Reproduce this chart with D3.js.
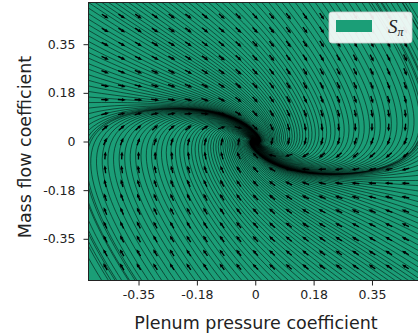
<!DOCTYPE html>
<html><head><meta charset="utf-8">
<script src="https://cdn.jsdelivr.net/npm/d3@7"></script>
<style>body{margin:0;background:#fff;overflow:hidden} svg{display:block}</style>
</head><body>
<svg id="chart" width="418" height="336"></svg>
<script>
// ---- data ----
const xDomain = [-0.5, 0.5];
const yDomain = [-0.5, 0.5];
const xTickValues = [-0.35, -0.175, 0, 0.175, 0.35];
const xTickLabels = ["-0.35", "-0.18", "0", "0.18", "0.35"];
const yTickValues = [-0.35, -0.175, 0, 0.175, 0.35];
const yTickLabels = ["-0.35", "-0.18", "0", "0.18", "0.35"];
// dynamics coefficients: d(pressure)/dt = [pressure, massflow], d(massflow)/dt = [sat(pressure), massflow]
const dPressureCoef = [-0.15, 1.0];
const dMassFlowCoef = [-1.0, -1.3];
const pressureSaturation = [0.2];
const quiverX = [-0.45,-0.4,-0.35,-0.3,-0.25,-0.2,-0.15,-0.1,-0.05,0,0.05,0.1,0.15,0.2,0.25,0.3,0.35,0.4,0.45];
const quiverY = [-0.45,-0.4,-0.35,-0.3,-0.25,-0.2,-0.15,-0.1,-0.05,0,0.05,0.1,0.15,0.2,0.25,0.3,0.35,0.4,0.45];
const legendSymbol = "S";
const legendSub = "π";
const xLabel = "Plenum pressure coefficient";
const yLabel = "Mass flow coefficient";
const regionColor = "#1b9e77";

// ---- layout ----
const svg = d3.select("#chart");
const x = d3.scaleLinear().domain(xDomain).range([88.5, 422]);
const y = d3.scaleLinear().domain(yDomain).range([280.5, 2.5]);
const [px0, px1] = x.range(), [py0, py1] = y.range();

svg.append("clipPath").attr("id","plotclip").append("rect")
  .attr("x", px0).attr("y", py1).attr("width", px1-px0).attr("height", py0-py1);

svg.append("rect").attr("x", px0).attr("y", py1).attr("width", px1-px0).attr("height", py0-py1)
  .attr("fill", regionColor);

function field(px, py) {
  const s = pressureSaturation[0];
  const h = px / Math.sqrt(1 + (px/s)*(px/s));
  return [dPressureCoef[0]*px + dPressureCoef[1]*py, dMassFlowCoef[0]*h + dMassFlowCoef[1]*py];
}

// ---- streamplot (matplotlib-like, unbroken streamlines) ----
const density = 1.7;
const N = Math.round(30*density);
const mask = new Uint8Array(N*N);
let curTraj = [], curXY = null;
const xw = xDomain[1]-xDomain[0], yw = yDomain[1]-yDomain[0];
function within(a,b){ return a>=0 && a<=1 && b>=0 && b<=1; }
function toMask(a,b){ return [Math.round(a*(N-1)), Math.round(b*(N-1))]; }
function updateTraj(a,b){
  const [xm,ym] = toMask(a,b);
  if (!curXY || curXY[0]!==xm || curXY[1]!==ym) {
    if (mask[ym*N+xm]===0) { curTraj.push(ym*N+xm); mask[ym*N+xm]=1; curXY=[xm,ym]; }
  }
}
function vel(a,b,dir){
  if(!within(a,b)) return null;
  const [u,v] = field(xDomain[0]+a*xw, yDomain[0]+b*yw);
  const ua=u/xw, va=v/yw, s=Math.hypot(ua,va);
  if (s<1e-12) return null;
  return [dir*ua/s, dir*va/s];
}
const maxlength = 4.0, minlength = 0.1;
function rk12(a0,b0,dir){
  const maxerror=0.003, maxds=Math.min(1/N,0.1);
  let ds=maxds, st=0, a=a0, b=b0, it=0;
  const pts=[];
  while(true){
    if(++it>3000) break;
    if(!within(a,b)) break;
    pts.push([a,b]);
    const k1=vel(a,b,dir); if(!k1) break;
    const k2=vel(a+ds*k1[0], b+ds*k1[1], dir);
    if(!k2){ pts.push([a+ds*k1[0], b+ds*k1[1]]); st+=ds; break; }
    const dx1=ds*k1[0], dy1=ds*k1[1];
    const dx2=ds*0.5*(k1[0]+k2[0]), dy2=ds*0.5*(k1[1]+k2[1]);
    const err=Math.hypot(dx2-dx1, dy2-dy1);
    if(err<maxerror){
      a+=dx2; b+=dy2;
      if(!within(a,b)){ pts.push([a,b]); break; }
      updateTraj(a,b);
      if(st+ds>maxlength) break;
      st+=ds;
    }
    ds = err===0 ? maxds : Math.min(maxds, 0.85*ds*Math.sqrt(maxerror/err));
    if (ds < 1e-7) break;
  }
  return {s:st, pts};
}
function integrate(a0,b0){
  curTraj=[]; curXY=null; updateTraj(a0,b0);
  const bw=rk12(a0,b0,-1);
  curXY=toMask(a0,b0);
  const fw=rk12(a0,b0,1);
  const tot=bw.s+fw.s;
  if(tot>minlength) return bw.pts.slice().reverse().concat(fw.pts.slice(1));
  curTraj.forEach(i=>mask[i]=0);
  return null;
}
function* startPoints(nx,ny){
  let xf=0, yf=1, xl=nx-1, yl=ny-1, xi=0, yi=0, d='right';
  for(let i=0;i<nx*ny;i++){
    yield [xi,yi];
    if(d==='right'){ xi++; if(xi>=xl){ xl--; d='up'; } }
    else if(d==='up'){ yi++; if(yi>=yl){ yl--; d='left'; } }
    else if(d==='left'){ xi--; if(xi<=xf){ xf++; d='down'; } }
    else { yi--; if(yi<=yf){ yf++; d='right'; } }
  }
}
const streams=[];
for(const [xm,ym] of startPoints(N,N)){
  if(mask[ym*N+xm]===0){
    const t=integrate(xm/(N-1), ym/(N-1));
    if(t) streams.push(t);
  }
}
const line = d3.line()
  .x(p=>x(xDomain[0]+p[0]*xw)).y(p=>y(yDomain[0]+p[1]*yw));
const sg = svg.append("g").attr("clip-path","url(#plotclip)");
sg.selectAll("path.stream").data(streams).join("path").attr("class","stream")
  .attr("d", line).attr("fill","none").attr("stroke","#000")
  .attr("stroke-width",0.7).attr("stroke-opacity",0.75);

// ---- quiver arrows ----
const sx = (px1-px0)/xw, sy = (py0-py1)/yw;
const qpts=[];
quiverX.forEach(qx=>quiverY.forEach(qy=>qpts.push([qx,qy])));
const L=8, hl=4, sw=0.7, hw=1.7;
sg.selectAll("path.q").data(qpts).join("path").attr("class","q")
  .attr("d", d=>{
    const [u,v]=field(d[0],d[1]);
    let dx=u*sx, dy=-v*sy; const m=Math.hypot(dx,dy)||1; dx/=m; dy/=m;
    const nx=-dy, ny=dx, cx=x(d[0]), cy=y(d[1]);
    const P=(t,w)=>[cx+dx*t+nx*w, cy+dy*t+ny*w];
    const pts=[P(-L/2,sw),P(L/2-hl,sw),P(L/2-hl,hw),P(L/2,0),P(L/2-hl,-hw),P(L/2-hl,-sw),P(-L/2,-sw)];
    return "M"+pts.map(p=>p[0].toFixed(2)+","+p[1].toFixed(2)).join("L")+"Z";
  }).attr("fill","#000");

// ---- frame & axes ----
svg.append("rect").attr("x", px0).attr("y", py1).attr("width", px1-px0).attr("height", py0-py1)
  .attr("fill","none").attr("stroke","#222").attr("stroke-width",1);

const font = "DejaVu Sans, sans-serif";
const xa = svg.append("g").attr("transform",`translate(0,${py0})`)
  .call(d3.axisBottom(x).tickValues(xTickValues).tickFormat((d,i)=>xTickLabels[i]).tickSize(5).tickSizeOuter(0).tickPadding(5));
const ya = svg.append("g").attr("transform",`translate(${px0},0)`)
  .call(d3.axisLeft(y).tickValues(yTickValues).tickFormat((d,i)=>yTickLabels[i]).tickSize(5).tickSizeOuter(0).tickPadding(8));
[xa,ya].forEach(g=>{
  g.select(".domain").remove();
  g.selectAll("line").attr("stroke","#222");
  g.selectAll("text").attr("font-family",font).attr("font-size",12.5).attr("fill","#222");
});

svg.append("text").attr("x",256).attr("y",329).attr("text-anchor","middle")
  .attr("font-family",font).attr("font-size",17.5).attr("fill","#222").text(xLabel);
svg.append("text").attr("transform","translate(31,147) rotate(-90)").attr("text-anchor","middle")
  .attr("font-family",font).attr("font-size",17.5).attr("fill","#222").text(yLabel);

// ---- legend ----
const lg = svg.append("g");
lg.append("rect").attr("x",329).attr("y",12).attr("width",83).attr("height",31).attr("rx",3)
  .attr("fill","#fff").attr("fill-opacity",0.9).attr("stroke","#ccc").attr("stroke-width",0.8);
lg.append("rect").attr("x",336).attr("y",20).attr("width",36).attr("height",12).attr("fill",regionColor);
const lt = lg.append("text").attr("x",388).attr("y",33).attr("font-family","Liberation Serif, DejaVu Serif, serif")
  .attr("fill","#222");
lt.append("tspan").attr("font-style","italic").attr("font-size",19).text(legendSymbol);
lt.append("tspan").attr("font-style","italic").attr("font-size",12).attr("dy",3).text(legendSub);
</script>
</body></html>
